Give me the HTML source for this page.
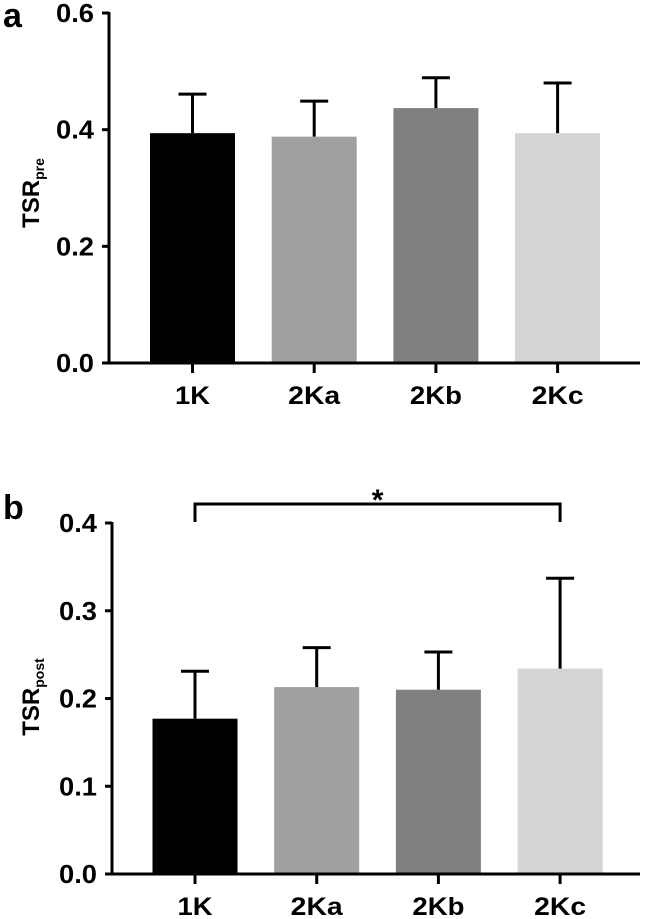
<!DOCTYPE html>
<html><head><meta charset="utf-8"><style>
html,body{margin:0;padding:0;background:#fff;}
svg{display:block;font-family:"Liberation Sans",Arial,sans-serif;font-weight:bold;}
</style></head><body>
<svg id="chart" width="645" height="919" viewBox="0 0 645 919" xmlns="http://www.w3.org/2000/svg"></svg>
<script>
const categories = ["1K","2Ka","2Kb","2Kc"];
const barColors = ["#000000","#a0a0a0","#808080","#d4d4d4"];
const preMeans = [0.394, 0.388, 0.437, 0.394];
const preErrTops = [0.461, 0.449, 0.489, 0.480];
const postMeans = [0.177, 0.213, 0.210, 0.234];
const postErrTops = [0.231, 0.258, 0.253, 0.337];
const preTicks = [0.0, 0.2, 0.4, 0.6];
const preTickLabels = ["0.0","0.2","0.4","0.6"];
const postTicks = [0.0, 0.1, 0.2, 0.3, 0.4];
const postTickLabels = ["0.0","0.1","0.2","0.3","0.4"];

const svg = document.getElementById('chart');
const NS = 'http://www.w3.org/2000/svg';
function mk(tag, attrs, parent){
  const e = document.createElementNS(NS, tag);
  for (const k in attrs) e.setAttribute(k, attrs[k]);
  (parent||svg).appendChild(e);
  return e;
}

function panel(cfg){
  const g = mk('g', {});
  
  
  const y = v => cfg.y0 - (v - cfg.vmin) / (cfg.vmax - cfg.vmin) * (cfg.y0 - cfg.yTop);
  const xc = i => cfg.xStart + cfg.step * i;
  categories.forEach((c, i) => {
    const bw = 85;
    const top = y(cfg.means[i]);
    const r = mk('rect', {x: xc(i) - bw/2, y: top, width: bw, height: cfg.y0 - top, fill: barColors[i]}, g);
    
    
    const et = y(cfg.errs[i]);
    const el = mk('path', {d: `M${xc(i)},${top} V${et} M${xc(i)-14},${et} H${xc(i)+14}`, stroke: '#000', 'stroke-width': 3, fill: 'none'}, g);
    
    
    const tk = mk('line', {x1: xc(i), x2: xc(i), y1: cfg.y0, y2: cfg.y0 + 10, stroke: '#000', 'stroke-width': 3}, g);
    
    
    const lbl = mk('text', {x: xc(i), y: cfg.y0 + 41, 'text-anchor': 'middle', 'font-size': 25, textLength: c.length === 2 ? 35 : 52, lengthAdjust: 'spacingAndGlyphs'}, g);
    lbl.textContent = c;
    
    
  });
  const ya = mk('line', {x1: cfg.ax, x2: cfg.ax, y1: cfg.yTop - 1, y2: cfg.y0 + 1.5, stroke: '#000', 'stroke-width': 3}, g);
  
  
  const xa = mk('line', {x1: cfg.ax - 5, x2: 640, y1: cfg.y0, y2: cfg.y0, stroke: '#000', 'stroke-width': 3}, g);
  
  
  cfg.ticks.forEach((t, i) => {
    const ty = y(t);
    const tl = mk('line', {x1: cfg.ax - 7, x2: cfg.ax, y1: ty, y2: ty, stroke: '#000', 'stroke-width': 3}, g);
    
    
    const tx = mk('text', {x: cfg.ax - 15, y: ty + 9, 'text-anchor': 'end', 'font-size': 26, textLength: 38, lengthAdjust: 'spacingAndGlyphs'}, g);
    tx.textContent = cfg.tickLabels[i];
    
    
  });
  const tt = mk('text', {transform: `translate(39,${cfg.titleY}) rotate(-90)`, 'text-anchor': 'middle', 'font-size': 24}, g);
  
  
  tt.appendChild(document.createTextNode('TSR'));
  const sub = mk('tspan', {'font-size': 14, dy: 5}, tt);
  sub.textContent = cfg.sub;
  const pl = mk('text', {x: 3, y: cfg.letterY, 'font-size': 34}, g);
  pl.textContent = cfg.letter;
  
  
  return {g, xc, y};
}

panel({name:'panel-a', y0:363, yTop:13, vmin:0, vmax:0.6, xStart:192.5, step:121.7, ax:109,
  means:preMeans, errs:preErrTops, ticks:preTicks, tickLabels:preTickLabels, titleY:193, sub:'pre', letter:'a', letterY:27});
const pb = panel({name:'panel-b', y0:874, yTop:523, vmin:0, vmax:0.4, xStart:195, step:121.7, ax:112,
  means:postMeans, errs:postErrTops, ticks:postTicks, tickLabels:postTickLabels, titleY:697, sub:'post', letter:'b', letterY:519});

const x1 = pb.xc(0), x2 = pb.xc(3);
const br = mk('path', {d: `M${x1},522 V504 H${x2} V522`, stroke: '#000', 'stroke-width': 3, fill: 'none'});


const st = mk('text', {x: (x1 + x2) / 2, y: 510, 'text-anchor': 'middle', 'font-size': 30});
st.textContent = '*';


</script>
</body></html>
